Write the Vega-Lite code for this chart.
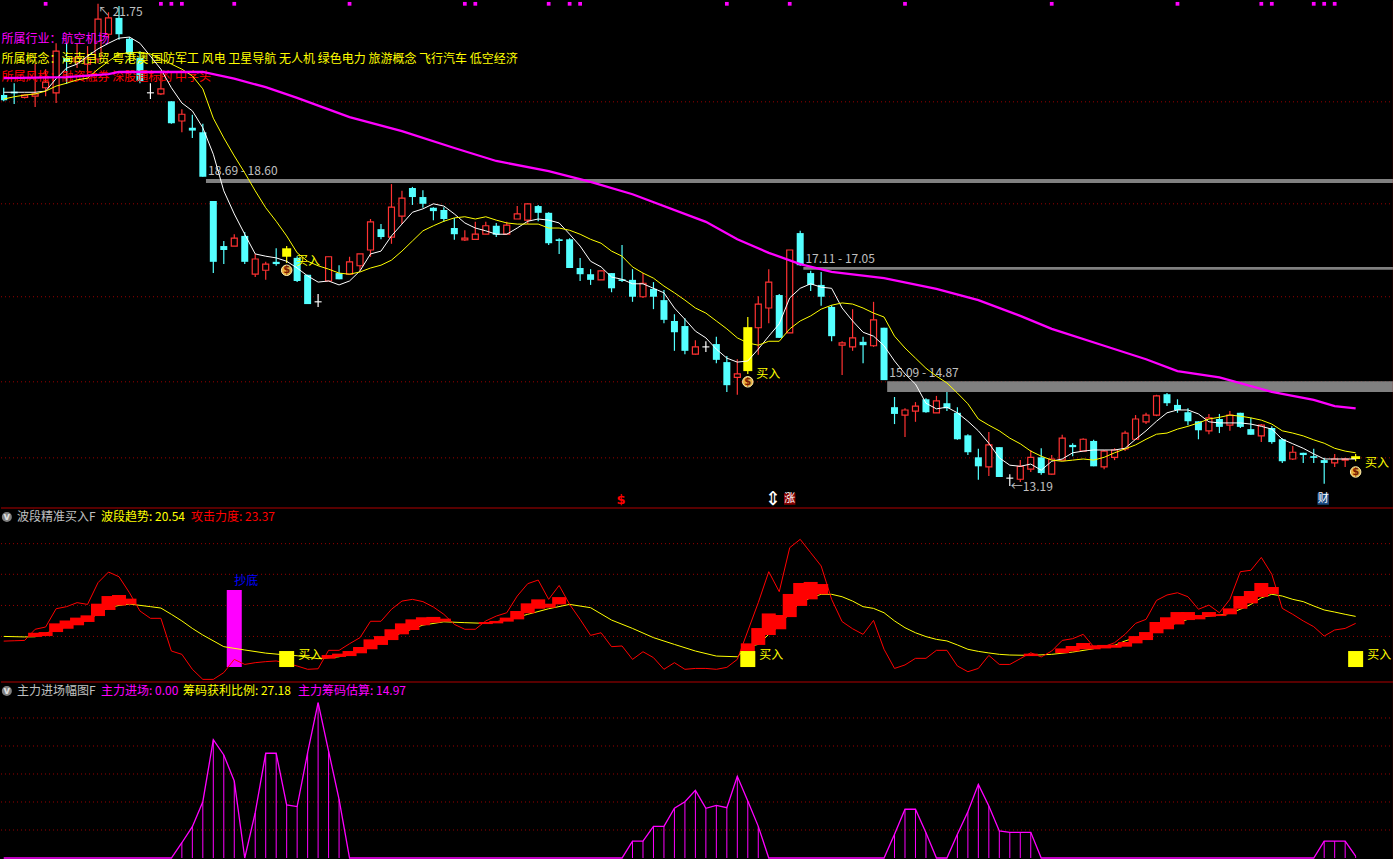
{"$schema":"https://vega.github.io/schema/vega-lite/v6.json","background":"#000000","padding":0,"spacing":0,"bounds":"flush","config":{"view":{"stroke":null},"concat":{"spacing":0},"scale":{"continuousPadding":0},"text":{"font":"Noto Sans CJK SC"}},
"datasets":{
"k":[
{"i":0,"o":20.13,"c":20.04,"h":20.26,"l":20.02,"s":"c","w":20.18,"y":20.06},
{"i":1,"o":20.19,"c":20.16,"h":20.34,"l":19.97,"s":"c","w":20.18,"y":20.10},
{"i":2,"o":20.09,"c":20.13,"h":20.14,"l":20.07,"s":"r","w":20.18,"y":20.13},
{"i":3,"o":20.11,"c":20.15,"h":20.68,"l":19.92,"s":"r","w":20.18,"y":20.15},
{"i":4,"o":20.26,"c":20.36,"h":20.59,"l":20.11,"s":"r","w":20.20,"y":20.20},
{"i":5,"o":20.17,"c":20.91,"h":21.05,"l":19.99,"s":"r","w":20.42,"y":20.29},
{"i":6,"o":20.79,"c":20.72,"h":21.05,"l":20.33,"s":"c","w":20.61,"y":20.34},
{"i":7,"o":20.72,"c":20.79,"h":21.04,"l":20.61,"s":"r","w":20.68,"y":20.40},
{"i":8,"o":20.68,"c":20.77,"h":21.00,"l":20.50,"s":"r","w":20.82,"y":20.43},
{"i":9,"o":20.77,"c":21.48,"h":21.75,"l":20.70,"s":"r","w":20.95,"y":20.59},
{"i":10,"o":21.21,"c":21.50,"h":21.60,"l":21.14,"s":"r","w":21.05,"y":20.73},
{"i":11,"o":21.50,"c":21.21,"h":21.71,"l":21.11,"s":"c","w":21.14,"y":20.86},
{"i":12,"o":21.13,"c":20.86,"h":21.16,"l":20.70,"s":"c","w":21.16,"y":20.88},
{"i":13,"o":20.79,"c":20.38,"h":20.91,"l":20.34,"s":"c","w":21.05,"y":20.89},
{"i":14,"o":20.18,"c":20.16,"h":20.34,"l":20.06,"s":"w","w":20.82,"y":20.86},
{"i":15,"o":20.15,"c":20.24,"h":20.56,"l":20.13,"s":"r","w":20.59,"y":20.77},
{"i":16,"o":20.02,"c":19.63,"h":20.02,"l":19.62,"s":"c","w":20.26,"y":20.68},
{"i":17,"o":19.67,"c":19.79,"h":19.88,"l":19.47,"s":"r","w":19.99,"y":20.59},
{"i":18,"o":19.55,"c":19.50,"h":19.78,"l":19.37,"s":"c","w":19.85,"y":20.47},
{"i":19,"o":19.47,"c":18.68,"h":19.62,"l":18.68,"s":"c","w":19.55,"y":20.24},
{"i":20,"o":18.25,"c":17.17,"h":18.25,"l":16.97,"s":"c","w":19.08,"y":19.72},
{"i":21,"o":17.45,"c":17.38,"h":17.54,"l":17.13,"s":"c","w":18.43,"y":19.37},
{"i":22,"o":17.45,"c":17.59,"h":17.66,"l":17.45,"s":"r","w":18.02,"y":19.05},
{"i":23,"o":17.63,"c":17.17,"h":17.70,"l":17.13,"s":"c","w":17.66,"y":18.75},
{"i":24,"o":16.95,"c":17.22,"h":17.31,"l":16.90,"s":"r","w":17.31,"y":18.43},
{"i":25,"o":17.02,"c":17.13,"h":17.17,"l":16.85,"s":"r","w":17.27,"y":18.13},
{"i":26,"o":17.17,"c":17.13,"h":17.41,"l":17.10,"s":"c","w":17.24,"y":17.89},
{"i":27,"o":17.26,"c":17.41,"h":17.45,"l":17.15,"s":"y","w":17.18,"y":17.63},
{"i":28,"o":17.24,"c":16.83,"h":17.27,"l":16.81,"s":"c","w":17.06,"y":17.33},
{"i":29,"o":16.94,"c":16.42,"h":16.94,"l":16.42,"s":"c","w":16.92,"y":17.18},
{"i":30,"o":16.47,"c":16.45,"h":16.60,"l":16.37,"s":"w","w":16.81,"y":17.10},
{"i":31,"o":16.83,"c":17.26,"h":17.26,"l":16.83,"s":"r","w":16.83,"y":17.04},
{"i":32,"o":16.97,"c":16.86,"h":17.11,"l":16.86,"s":"c","w":16.76,"y":16.97},
{"i":33,"o":16.95,"c":17.17,"h":17.26,"l":16.95,"s":"r","w":16.83,"y":16.95},
{"i":34,"o":17.10,"c":17.31,"h":17.31,"l":17.01,"s":"r","w":17.01,"y":16.99},
{"i":35,"o":17.38,"c":17.88,"h":17.93,"l":17.26,"s":"r","w":17.31,"y":17.06},
{"i":36,"o":17.75,"c":17.61,"h":17.84,"l":17.57,"s":"c","w":17.36,"y":17.11},
{"i":37,"o":17.61,"c":18.14,"h":18.55,"l":17.49,"s":"r","w":17.63,"y":17.20},
{"i":38,"o":17.98,"c":18.30,"h":18.43,"l":17.84,"s":"r","w":17.84,"y":17.36},
{"i":39,"o":18.48,"c":18.32,"h":18.50,"l":18.18,"s":"c","w":18.05,"y":17.54},
{"i":40,"o":18.32,"c":18.20,"h":18.44,"l":18.13,"s":"c","w":18.11,"y":17.72},
{"i":41,"o":18.13,"c":18.07,"h":18.14,"l":17.91,"s":"c","w":18.20,"y":17.81},
{"i":42,"o":18.09,"c":17.93,"h":18.14,"l":17.88,"s":"c","w":18.16,"y":17.89},
{"i":43,"o":17.77,"c":17.66,"h":17.95,"l":17.56,"s":"c","w":18.02,"y":17.95},
{"i":44,"o":17.56,"c":17.59,"h":17.73,"l":17.54,"s":"r","w":17.86,"y":17.97},
{"i":45,"o":17.57,"c":17.66,"h":17.88,"l":17.57,"s":"r","w":17.77,"y":17.93},
{"i":46,"o":17.66,"c":17.81,"h":17.88,"l":17.66,"s":"r","w":17.72,"y":17.97},
{"i":47,"o":17.81,"c":17.65,"h":17.86,"l":17.61,"s":"c","w":17.66,"y":17.91},
{"i":48,"o":17.66,"c":17.82,"h":17.88,"l":17.66,"s":"r","w":17.66,"y":17.86},
{"i":49,"o":17.93,"c":18.02,"h":18.16,"l":17.93,"s":"r","w":17.77,"y":17.84},
{"i":50,"o":17.91,"c":18.20,"h":18.21,"l":17.84,"s":"r","w":17.89,"y":17.84},
{"i":51,"o":18.16,"c":18.04,"h":18.18,"l":17.89,"s":"c","w":17.93,"y":17.84},
{"i":52,"o":18.04,"c":17.50,"h":18.05,"l":17.47,"s":"c","w":17.91,"y":17.77},
{"i":53,"o":17.57,"c":17.54,"h":17.59,"l":17.31,"s":"c","w":17.86,"y":17.77},
{"i":54,"o":17.57,"c":17.06,"h":17.59,"l":17.06,"s":"c","w":17.66,"y":17.73},
{"i":55,"o":17.06,"c":16.95,"h":17.24,"l":16.83,"s":"c","w":17.45,"y":17.66},
{"i":56,"o":16.95,"c":16.85,"h":17.04,"l":16.76,"s":"c","w":17.18,"y":17.57},
{"i":57,"o":16.85,"c":17.01,"h":17.02,"l":16.85,"s":"r","w":17.08,"y":17.50},
{"i":58,"o":16.97,"c":16.70,"h":16.97,"l":16.63,"s":"c","w":16.90,"y":17.36},
{"i":59,"o":16.86,"c":16.83,"h":17.47,"l":16.81,"s":"c","w":16.86,"y":17.27},
{"i":60,"o":16.85,"c":16.55,"h":17.04,"l":16.46,"s":"c","w":16.78,"y":17.08},
{"i":61,"o":16.55,"c":16.79,"h":16.97,"l":16.53,"s":"r","w":16.78,"y":16.97},
{"i":62,"o":16.69,"c":16.55,"h":16.81,"l":16.33,"s":"c","w":16.70,"y":16.88},
{"i":63,"o":16.49,"c":16.14,"h":16.67,"l":16.08,"s":"c","w":16.62,"y":16.74},
{"i":64,"o":16.12,"c":15.92,"h":16.24,"l":15.59,"s":"c","w":16.35,"y":16.62},
{"i":65,"o":16.03,"c":15.59,"h":16.17,"l":15.53,"s":"c","w":16.15,"y":16.49},
{"i":66,"o":15.53,"c":15.66,"h":15.78,"l":15.52,"s":"r","w":15.94,"y":16.35},
{"i":67,"o":15.67,"c":15.65,"h":15.76,"l":15.57,"s":"w","w":15.82,"y":16.26},
{"i":68,"o":15.71,"c":15.43,"h":15.84,"l":15.37,"s":"c","w":15.62,"y":16.12},
{"i":69,"o":15.39,"c":14.98,"h":15.50,"l":14.86,"s":"c","w":15.46,"y":15.98},
{"i":70,"o":15.12,"c":15.18,"h":15.44,"l":14.81,"s":"r","w":15.39,"y":15.82},
{"i":71,"o":15.23,"c":16.01,"h":16.19,"l":15.18,"s":"y","w":15.41,"y":15.73},
{"i":72,"o":16.00,"c":16.42,"h":16.56,"l":15.52,"s":"r","w":15.62,"y":15.69},
{"i":73,"o":16.35,"c":16.81,"h":17.04,"l":16.08,"s":"r","w":15.85,"y":15.76},
{"i":74,"o":16.58,"c":15.82,"h":16.60,"l":15.82,"s":"c","w":16.07,"y":15.76},
{"i":75,"o":15.91,"c":17.38,"h":17.38,"l":15.91,"s":"r","w":16.53,"y":15.98},
{"i":76,"o":17.68,"c":17.11,"h":17.72,"l":17.10,"s":"c","w":16.70,"y":16.12},
{"i":77,"o":16.97,"c":16.76,"h":17.01,"l":16.65,"s":"c","w":16.78,"y":16.21},
{"i":78,"o":16.76,"c":16.55,"h":16.99,"l":16.39,"s":"c","w":16.72,"y":16.33},
{"i":79,"o":16.37,"c":15.85,"h":16.40,"l":15.76,"s":"c","w":16.70,"y":16.40},
{"i":80,"o":15.69,"c":15.73,"h":15.76,"l":15.16,"s":"r","w":16.35,"y":16.44},
{"i":81,"o":15.66,"c":15.82,"h":16.33,"l":15.59,"s":"r","w":16.12,"y":16.42},
{"i":82,"o":15.75,"c":15.69,"h":15.84,"l":15.37,"s":"c","w":15.92,"y":16.35},
{"i":83,"o":15.68,"c":16.14,"h":16.46,"l":15.66,"s":"r","w":15.85,"y":16.26},
{"i":84,"o":16.00,"c":15.07,"h":16.00,"l":15.07,"s":"c","w":15.68,"y":16.19},
{"i":85,"o":14.59,"c":14.47,"h":14.77,"l":14.29,"s":"c","w":15.41,"y":15.85},
{"i":86,"o":14.45,"c":14.54,"h":14.57,"l":14.06,"s":"r","w":15.18,"y":15.64},
{"i":87,"o":14.52,"c":14.61,"h":14.68,"l":14.33,"s":"r","w":15.00,"y":15.46},
{"i":88,"o":14.73,"c":14.50,"h":14.75,"l":14.49,"s":"c","w":14.66,"y":15.28},
{"i":89,"o":14.49,"c":14.70,"h":14.79,"l":14.49,"s":"r","w":14.56,"y":15.14},
{"i":90,"o":14.66,"c":14.57,"h":14.86,"l":14.52,"s":"c","w":14.59,"y":15.02},
{"i":91,"o":14.49,"c":14.02,"h":14.59,"l":14.01,"s":"c","w":14.49,"y":14.84},
{"i":92,"o":14.09,"c":13.79,"h":14.11,"l":13.74,"s":"c","w":14.34,"y":14.65},
{"i":93,"o":13.70,"c":13.54,"h":13.85,"l":13.30,"s":"c","w":14.17,"y":14.38},
{"i":94,"o":13.53,"c":13.92,"h":14.15,"l":13.37,"s":"r","w":13.95,"y":14.27},
{"i":95,"o":13.88,"c":13.35,"h":13.88,"l":13.35,"s":"c","w":13.69,"y":14.17},
{"i":96,"o":13.34,"c":13.32,"h":13.40,"l":13.19,"s":"w","w":13.56,"y":14.04},
{"i":97,"o":13.31,"c":13.54,"h":13.65,"l":13.26,"s":"r","w":13.54,"y":13.94},
{"i":98,"o":13.49,"c":13.70,"h":13.83,"l":13.44,"s":"r","w":13.58,"y":13.81},
{"i":99,"o":13.70,"c":13.42,"h":13.86,"l":13.39,"s":"c","w":13.47,"y":13.72},
{"i":100,"o":13.40,"c":13.67,"h":13.74,"l":13.39,"s":"r","w":13.63,"y":13.65},
{"i":101,"o":13.65,"c":14.04,"h":14.10,"l":13.65,"s":"r","w":13.67,"y":13.63},
{"i":102,"o":13.92,"c":13.88,"h":13.95,"l":13.72,"s":"c","w":13.78,"y":13.65},
{"i":103,"o":13.81,"c":14.02,"h":14.04,"l":13.81,"s":"r","w":13.81,"y":13.67},
{"i":104,"o":13.99,"c":13.54,"h":14.01,"l":13.54,"s":"c","w":13.83,"y":13.65},
{"i":105,"o":13.53,"c":13.81,"h":13.83,"l":13.49,"s":"r","w":13.83,"y":13.70},
{"i":106,"o":13.70,"c":13.83,"h":13.86,"l":13.65,"s":"r","w":13.83,"y":13.78},
{"i":107,"o":13.85,"c":14.13,"h":14.17,"l":13.81,"s":"r","w":13.86,"y":13.85},
{"i":108,"o":14.02,"c":14.38,"h":14.45,"l":14.01,"s":"r","w":14.02,"y":13.92},
{"i":109,"o":14.33,"c":14.45,"h":14.49,"l":14.29,"s":"r","w":14.17,"y":14.02},
{"i":110,"o":14.45,"c":14.79,"h":14.81,"l":14.43,"s":"r","w":14.34,"y":14.11},
{"i":111,"o":14.82,"c":14.66,"h":14.84,"l":14.61,"s":"c","w":14.49,"y":14.13},
{"i":112,"o":14.63,"c":14.54,"h":14.73,"l":14.49,"s":"c","w":14.54,"y":14.20},
{"i":113,"o":14.50,"c":14.34,"h":14.57,"l":14.27,"s":"c","w":14.54,"y":14.25},
{"i":114,"o":14.34,"c":14.18,"h":14.34,"l":14.02,"s":"c","w":14.47,"y":14.31},
{"i":115,"o":14.17,"c":14.40,"h":14.47,"l":14.11,"s":"r","w":14.33,"y":14.38},
{"i":116,"o":14.38,"c":14.24,"h":14.47,"l":14.13,"s":"c","w":14.31,"y":14.41},
{"i":117,"o":14.27,"c":14.45,"h":14.52,"l":14.17,"s":"r","w":14.31,"y":14.45},
{"i":118,"o":14.49,"c":14.24,"h":14.49,"l":14.22,"s":"c","w":14.31,"y":14.43},
{"i":119,"o":14.20,"c":14.10,"h":14.40,"l":14.10,"s":"c","w":14.29,"y":14.40},
{"i":120,"o":14.08,"c":14.27,"h":14.29,"l":13.97,"s":"r","w":14.25,"y":14.36},
{"i":121,"o":14.22,"c":13.97,"h":14.25,"l":13.94,"s":"c","w":14.20,"y":14.29},
{"i":122,"o":14.02,"c":13.63,"h":14.04,"l":13.60,"s":"c","w":14.02,"y":14.17},
{"i":123,"o":13.67,"c":13.79,"h":13.90,"l":13.65,"s":"r","w":13.94,"y":14.13},
{"i":124,"o":13.78,"c":13.74,"h":13.78,"l":13.60,"s":"c","w":13.86,"y":14.08},
{"i":125,"o":13.72,"c":13.69,"h":13.85,"l":13.60,"s":"c","w":13.76,"y":14.01},
{"i":126,"o":13.65,"c":13.60,"h":13.69,"l":13.23,"s":"c","w":13.67,"y":13.95},
{"i":127,"o":13.60,"c":13.67,"h":13.76,"l":13.53,"s":"r","w":13.67,"y":13.86},
{"i":128,"o":13.65,"c":13.67,"h":13.69,"l":13.53,"s":"r","w":13.67,"y":13.81},
{"i":129,"o":13.67,"c":13.72,"h":13.76,"l":13.63,"s":"y","w":13.67,"y":13.78}
],
"ma":[{"i":0,"m":20.43},{"i":6,"m":20.45},{"i":10,"m":20.50},{"i":11,"m":20.54},{"i":19,"m":20.54},{"i":22,"m":20.42},{"i":25,"m":20.27},{"i":28,"m":20.08},{"i":33,"m":19.74},{"i":38,"m":19.49},{"i":43,"m":19.19},{"i":47,"m":18.96},{"i":52,"m":18.78},{"i":56,"m":18.59},{"i":60,"m":18.37},{"i":67,"m":17.88},{"i":70,"m":17.57},{"i":73,"m":17.33},{"i":76,"m":17.13},{"i":79,"m":16.99},{"i":84,"m":16.88},{"i":89,"m":16.69},{"i":93,"m":16.49},{"i":97,"m":16.21},{"i":100,"m":15.98},{"i":105,"m":15.68},{"i":109,"m":15.44},{"i":112,"m":15.23},{"i":116,"m":15.12},{"i":121,"m":14.86},{"i":125,"m":14.72},{"i":127,"m":14.61},{"i":129,"m":14.57}],
"a":[{"i":0,"v":23.5},{"i":1,"v":23.7},{"i":2,"v":23.9},{"i":3,"v":30.3},{"i":4,"v":31.6},{"i":5,"v":42.1},{"i":6,"v":43.3},{"i":7,"v":45.6},{"i":8,"v":44.6},{"i":9,"v":57.1},{"i":10,"v":63.2},{"i":11,"v":60.5},{"i":12,"v":51.3},{"i":13,"v":40.8},{"i":14,"v":36.6},{"i":15,"v":36.6},{"i":16,"v":17.8},{"i":17,"v":15.9},{"i":18,"v":7.3},{"i":19,"v":1.5},{"i":20,"v":1.5},{"i":21,"v":5.4},{"i":22,"v":13},{"i":23,"v":10.1},{"i":24,"v":11.1},{"i":25,"v":11.7},{"i":26,"v":12.1},{"i":27,"v":10.7},{"i":28,"v":9.2},{"i":29,"v":7.3},{"i":30,"v":7.6},{"i":31,"v":18.2},{"i":32,"v":18.2},{"i":33,"v":22},{"i":34,"v":25.5},{"i":35,"v":34.9},{"i":36,"v":34.9},{"i":37,"v":41.8},{"i":38,"v":46.5},{"i":39,"v":47.5},{"i":40,"v":46.2},{"i":41,"v":43.1},{"i":42,"v":38.9},{"i":43,"v":33.1},{"i":44,"v":30.3},{"i":45,"v":30.3},{"i":46,"v":35.1},{"i":47,"v":37.9},{"i":48,"v":39.8},{"i":49,"v":49.4},{"i":50,"v":56.5},{"i":51,"v":58.6},{"i":52,"v":47.5},{"i":53,"v":55.5},{"i":54,"v":44.6},{"i":55,"v":36},{"i":56,"v":26.8},{"i":57,"v":28.3},{"i":58,"v":20.3},{"i":59,"v":20.7},{"i":60,"v":13},{"i":61,"v":17.4},{"i":62,"v":14},{"i":63,"v":7.3},{"i":64,"v":11.1},{"i":65,"v":7.3},{"i":66,"v":7.8},{"i":67,"v":7.8},{"i":68,"v":7.3},{"i":69,"v":8.4},{"i":70,"v":13},{"i":71,"v":29.3},{"i":72,"v":45.6},{"i":73,"v":63.4},{"i":74,"v":51.9},{"i":75,"v":77.2},{"i":76,"v":82},{"i":77,"v":74.3},{"i":78,"v":66.7},{"i":79,"v":47.5},{"i":80,"v":34.7},{"i":81,"v":30.6},{"i":82,"v":27.4},{"i":83,"v":35.4},{"i":84,"v":18.8},{"i":85,"v":7.8},{"i":86,"v":9.8},{"i":87,"v":13.6},{"i":88,"v":13.6},{"i":89,"v":18.2},{"i":90,"v":18.2},{"i":91,"v":9.2},{"i":92,"v":5.9},{"i":93,"v":7.8},{"i":94,"v":15.3},{"i":95,"v":10.1},{"i":96,"v":10.1},{"i":97,"v":13.4},{"i":98,"v":16.8},{"i":99,"v":14.4},{"i":100,"v":17.8},{"i":101,"v":23.9},{"i":102,"v":24.9},{"i":103,"v":27.4},{"i":104,"v":20.3},{"i":105,"v":20.3},{"i":106,"v":22.6},{"i":107,"v":27.4},{"i":108,"v":33.7},{"i":109,"v":36},{"i":110,"v":46.9},{"i":111,"v":50},{"i":112,"v":51.3},{"i":113,"v":49},{"i":114,"v":41.8},{"i":115,"v":44.2},{"i":116,"v":39.8},{"i":117,"v":47.5},{"i":118,"v":63.4},{"i":119,"v":64.2},{"i":120,"v":71.6},{"i":121,"v":61.9},{"i":122,"v":42.3},{"i":123,"v":38.9},{"i":124,"v":35.1},{"i":125,"v":31.8},{"i":126,"v":26.4},{"i":127,"v":29.9},{"i":128,"v":30.8},{"i":129,"v":33.7}],
"b":[{"i":0,"v":26.2},{"i":2,"v":25.9},{"i":3,"v":26},{"i":4,"v":28},{"i":6,"v":31.8},{"i":8,"v":35.6},{"i":10,"v":42.7},{"i":11,"v":44},{"i":12,"v":44.8},{"i":14,"v":43.3},{"i":15,"v":42.5},{"i":16,"v":38.9},{"i":17,"v":35.1},{"i":18,"v":30.8},{"i":19,"v":27},{"i":21,"v":20.3},{"i":23,"v":18.4},{"i":25,"v":16.6},{"i":27,"v":15.5},{"i":28,"v":15.1},{"i":30,"v":13.4},{"i":32,"v":14.5},{"i":34,"v":17.8},{"i":36,"v":23.6},{"i":38,"v":28.3},{"i":40,"v":32.7},{"i":42,"v":34.6},{"i":44,"v":34.1},{"i":46,"v":33.7},{"i":48,"v":35.6},{"i":50,"v":38.9},{"i":52,"v":42.1},{"i":54,"v":44.6},{"i":56,"v":42.7},{"i":58,"v":35.6},{"i":60,"v":30.8},{"i":62,"v":25.5},{"i":64,"v":21.6},{"i":66,"v":17.8},{"i":68,"v":14.9},{"i":70,"v":14.5},{"i":71,"v":20.3},{"i":72,"v":21.6},{"i":73,"v":27.4},{"i":74,"v":32.2},{"i":75,"v":39.8},{"i":76,"v":45.6},{"i":77,"v":48.4},{"i":78,"v":50.4},{"i":79,"v":50.4},{"i":80,"v":49},{"i":81,"v":46.5},{"i":82,"v":43.3},{"i":83,"v":42.3},{"i":84,"v":39.8},{"i":85,"v":35.1},{"i":86,"v":31.2},{"i":87,"v":28.3},{"i":88,"v":26.1},{"i":89,"v":24.5},{"i":90,"v":23.6},{"i":91,"v":21.3},{"i":92,"v":18.8},{"i":93,"v":17.6},{"i":94,"v":16.7},{"i":95,"v":15.9},{"i":96,"v":15.5},{"i":98,"v":15.3},{"i":100,"v":15.9},{"i":102,"v":17.2},{"i":104,"v":19.1},{"i":105,"v":20.7},{"i":106,"v":21.1},{"i":107,"v":23.6},{"i":108,"v":25.5},{"i":109,"v":26.4},{"i":110,"v":29.3},{"i":111,"v":31.8},{"i":112,"v":34.1},{"i":113,"v":36},{"i":114,"v":37.3},{"i":115,"v":37.9},{"i":116,"v":38.5},{"i":117,"v":39.5},{"i":118,"v":41.8},{"i":119,"v":44.6},{"i":120,"v":48.4},{"i":121,"v":50.4},{"i":122,"v":49.4},{"i":123,"v":47.5},{"i":124,"v":46.2},{"i":125,"v":43.7},{"i":126,"v":41.4},{"i":127,"v":40.2},{"i":128,"v":38.9},{"i":129,"v":37.7}],
"blocks":[{"i":3,"t":28.3,"u":25.9},{"i":4,"t":28.7,"u":26.4},{"i":5,"t":33.7,"u":28.7},{"i":6,"t":35.4,"u":30.6},{"i":7,"t":37,"u":32.6},{"i":8,"t":38.3,"u":34.5},{"i":9,"t":45,"u":37.9},{"i":10,"t":49.4,"u":41.4},{"i":11,"t":50,"u":44},{"i":12,"t":47.9,"u":44.6},{"i":31,"t":15.5,"u":13.4},{"i":32,"t":16.3,"u":14.4},{"i":33,"t":17.8,"u":14.9},{"i":34,"t":20.1,"u":16.5},{"i":35,"t":24.5,"u":18.8},{"i":36,"t":26.4,"u":21.3},{"i":37,"t":30.3,"u":24.1},{"i":38,"t":33.7,"u":27.4},{"i":39,"t":36,"u":29.9},{"i":40,"t":37.2,"u":32.6},{"i":41,"t":37.4,"u":34.1},{"i":42,"t":36.4,"u":34.7},{"i":46,"t":34.5,"u":33.3},{"i":47,"t":35.1,"u":33.7},{"i":48,"t":37,"u":34.7},{"i":49,"t":40.8,"u":36},{"i":50,"t":45.2,"u":39.5},{"i":51,"t":47.5,"u":42.1},{"i":52,"t":45,"u":42.7},{"i":53,"t":48.8,"u":44.6},{"i":71,"t":22.2,"u":17.8},{"i":72,"t":31,"u":21.3},{"i":73,"t":39.4,"u":27},{"i":74,"t":38.5,"u":30.3},{"i":75,"t":50.6,"u":37.3},{"i":76,"t":56.9,"u":43.7},{"i":77,"t":57.5,"u":47.5},{"i":78,"t":56.3,"u":50.4},{"i":98,"t":16.3,"u":14.9},{"i":101,"t":19.3,"u":16.6},{"i":102,"t":20.7,"u":17.6},{"i":103,"t":22.4,"u":18.8},{"i":104,"t":21.1,"u":18.8},{"i":105,"t":21.3,"u":19.3},{"i":106,"t":21.4,"u":19.7},{"i":107,"t":23,"u":20.3},{"i":108,"t":26.4,"u":22.2},{"i":109,"t":28.7,"u":24.1},{"i":110,"t":34.5,"u":28},{"i":111,"t":37.2,"u":30.3},{"i":112,"t":40.2,"u":33.1},{"i":113,"t":40.2,"u":35.6},{"i":114,"t":38.5,"u":36},{"i":115,"t":40.2,"u":37.5},{"i":116,"t":38.9,"u":37.9},{"i":117,"t":42.3,"u":38.9},{"i":118,"t":49.4,"u":42.1},{"i":119,"t":52.3,"u":45.2},{"i":120,"t":56.9,"u":48.9},{"i":121,"t":54.6,"u":50.6}],
"z":[{"i":0,"v":0},{"i":16,"v":0},{"i":17,"v":10.9},{"i":18,"v":22.4},{"i":19,"v":40.2},{"i":20,"v":84.5},{"i":21,"v":73.6},{"i":22,"v":55},{"i":23,"v":0},{"i":24,"v":32.4},{"i":25,"v":74.8},{"i":26,"v":74.8},{"i":27,"v":37.9},{"i":28,"v":36.7},{"i":29,"v":75.2},{"i":30,"v":110.9},{"i":31,"v":76.4},{"i":32,"v":41.9},{"i":33,"v":0},{"i":59,"v":0},{"i":60,"v":12.1},{"i":61,"v":12.1},{"i":62,"v":22.6},{"i":63,"v":22.6},{"i":64,"v":35.5},{"i":65,"v":40.2},{"i":66,"v":48.3},{"i":67,"v":35.5},{"i":68,"v":37.6},{"i":69,"v":35.9},{"i":70,"v":58.3},{"i":71,"v":40.7},{"i":72,"v":22.6},{"i":73,"v":0},{"i":84,"v":0},{"i":85,"v":16.9},{"i":86,"v":34.8},{"i":87,"v":34.8},{"i":88,"v":18.1},{"i":89,"v":0},{"i":90,"v":0},{"i":91,"v":16.9},{"i":92,"v":33.1},{"i":93,"v":52.6},{"i":94,"v":37.1},{"i":95,"v":19.3},{"i":96,"v":18.3},{"i":97,"v":18.3},{"i":98,"v":18.3},{"i":99,"v":0},{"i":125,"v":0},{"i":126,"v":12.1},{"i":127,"v":12.1},{"i":128,"v":12.1},{"i":129,"v":1.4}]
},
"vconcat":[
{"width":1393,"height":507,"layer":[
{"data":{"values":[{"p":20.01},{"p":18.2},{"p":16.55},{"p":15.04},{"p":13.69}]},"mark":{"type":"rule","stroke":"#990000","strokeDash":[1,3]},"encoding":{"y":{"field":"p","type":"quantitative","scale":{"domain":[12.8,21.8],"nice":false,"zero":false},"axis":null}}},
{"data":{"values":[{"i":19.3,"e":132.66,"t":18.64,"u":18.57},{"i":76.3,"e":132.66,"t":17.08,"u":17.03},{"i":84.3,"e":132.66,"t":15.05,"u":14.86}]},"mark":{"type":"rect","fill":"#808080"},"encoding":{"x":{"field":"i","type":"quantitative","scale":{"domain":[-0.258,132.66],"nice":false,"zero":false,"padding":0},"axis":null},"x2":{"field":"e"},"y":{"field":"t","type":"quantitative","axis":null},"y2":{"field":"u"}}},
{"data":{"name":"k"},"mark":{"type":"rule","strokeWidth":1.2,"clip":true},"encoding":{"x":{"field":"i","type":"quantitative","axis":null},"y":{"field":"h","type":"quantitative","axis":null},"y2":{"field":"l"},"color":{"field":"s","type":"nominal","legend":null,"scale":{"domain":["r","c","y","w","m","l","R","g","b"],"range":["#ff3232","#54ffff","#ffff00","#ffffff","#ff00ff","#ffff00","#ff0000","#c0c0c0","#0000ff"]}}}},
{"data":{"name":"k"},"transform":[{"filter":"datum.s==='r'"}],"mark":{"type":"bar","size":6,"fill":"#000000","stroke":"#ff3232","strokeWidth":1.2,"clip":true},"encoding":{"x":{"field":"i","type":"quantitative","axis":null},"y":{"field":"o","type":"quantitative","axis":null},"y2":{"field":"c"}}},
{"data":{"name":"k"},"transform":[{"filter":"datum.s==='c'"}],"mark":{"type":"bar","size":7,"fill":"#54ffff","clip":true},"encoding":{"x":{"field":"i","type":"quantitative","axis":null},"y":{"field":"o","type":"quantitative","axis":null},"y2":{"field":"c"}}},
{"data":{"name":"k"},"transform":[{"filter":"datum.s==='w'"}],"mark":{"type":"bar","size":7,"fill":"#ffffff","clip":true},"encoding":{"x":{"field":"i","type":"quantitative","axis":null},"y":{"field":"o","type":"quantitative","axis":null},"y2":{"field":"c"}}},
{"data":{"name":"k"},"transform":[{"filter":"datum.s==='y'"}],"mark":{"type":"bar","size":9,"fill":"#ffff00","clip":true},"encoding":{"x":{"field":"i","type":"quantitative","axis":null},"y":{"field":"o","type":"quantitative","axis":null},"y2":{"field":"c"}}},
{"data":{"values":[{"i":-0.2,"p":21.13,"s":"m","t":"所属行业：航空机场"},{"i":-0.2,"p":20.77,"s":"l","t":"所属概念：海南自贸 粤港澳 国防军工 风电 卫星导航 无人机 绿色电力 旅游概念 飞行汽车 低空经济"},{"i":-0.2,"p":20.45,"s":"R","t":"所属风格：融资融券 深股通标的 中字头"},{"i":9,"p":21.6,"s":"g","t":"↖ 21.75"},{"i":19.5,"p":18.78,"s":"g","t":"18.69 - 18.60"},{"i":76.5,"p":17.22,"s":"g","t":"17.11 - 17.05"},{"i":84.5,"p":15.2,"s":"g","t":"15.09 - 14.87"},{"i":96.1,"p":13.17,"s":"g","t":"←13.19"},{"i":27.9,"p":17.18,"s":"l","t":"买入"},{"i":71.8,"p":15.18,"s":"l","t":"买入"},{"i":129.9,"p":13.6,"s":"l","t":"买入"}]},"mark":{"type":"text","align":"left","baseline":"middle","fontSize":12,"font":"Noto Sans CJK SC","clip":true},"encoding":{"x":{"field":"i","type":"quantitative","axis":null},"y":{"field":"p","type":"quantitative","axis":null},"text":{"field":"t"},"color":{"field":"s","type":"nominal","legend":null,"scale":{"domain":["r","c","y","w","m","l","R","g","b"],"range":["#ff3232","#54ffff","#ffff00","#ffffff","#ff00ff","#ffff00","#ff0000","#c0c0c0","#0000ff"]}}}},
{"data":{"values":[{"i":58.9,"p":12.94,"t":"$"}]},"mark":{"type":"text","fontSize":13,"fontWeight":"bold","fill":"#ff0000","font":"DejaVu Sans"},"encoding":{"x":{"field":"i","type":"quantitative","axis":null},"y":{"field":"p","type":"quantitative","axis":null},"text":{"field":"t"}}},
{"data":{"values":[{"i":73.4,"p":12.96,"t":"⇕"}]},"mark":{"type":"text","fontSize":19,"fill":"#ffffff","font":"DejaVu Sans"},"encoding":{"x":{"field":"i","type":"quantitative","axis":null},"y":{"field":"p","type":"quantitative","axis":null},"text":{"field":"t"}}},
{"data":{"name":"k"},"mark":{"type":"line","stroke":"#ffffff","strokeWidth":1,"clip":true},"encoding":{"x":{"field":"i","type":"quantitative","axis":null},"y":{"field":"w","type":"quantitative","axis":null}}},
{"data":{"name":"k"},"mark":{"type":"line","stroke":"#ffff00","strokeWidth":1,"clip":true},"encoding":{"x":{"field":"i","type":"quantitative","axis":null},"y":{"field":"y","type":"quantitative","axis":null}}},
{"data":{"name":"ma"},"mark":{"type":"line","stroke":"#ff00ff","strokeWidth":2.3,"clip":true},"encoding":{"x":{"field":"i","type":"quantitative","axis":null},"y":{"field":"m","type":"quantitative","axis":null}}},
{"data":{"values":[{"i":4},{"i":15},{"i":16},{"i":17},{"i":22},{"i":33},{"i":44},{"i":45},{"i":52},{"i":54},{"i":55},{"i":69},{"i":75},{"i":86},{"i":100},{"i":112},{"i":120},{"i":121},{"i":125},{"i":126},{"i":127}]},"mark":{"type":"point","shape":"square","filled":true,"fill":"#ff00ff","size":14,"opacity":1},"encoding":{"x":{"field":"i","type":"quantitative","axis":null},"y":{"datum":21.75,"type":"quantitative","axis":null}}},
{"data":{"values":[{"i":27,"p":17.02},{"i":71,"p":15.04},{"i":129,"p":13.44}]},"mark":{"type":"point","shape":"circle","filled":true,"fill":"#e8b040","stroke":"#fff0b0","strokeWidth":1,"size":110,"opacity":1},"encoding":{"x":{"field":"i","type":"quantitative","axis":null},"y":{"field":"p","type":"quantitative","axis":null}}},
{"data":{"values":[{"i":27,"p":17.02},{"i":71,"p":15.04},{"i":129,"p":13.44}]},"mark":{"type":"text","text":"$","fontSize":10,"fontWeight":"bold","fill":"#7a1a00","font":"DejaVu Sans"},"encoding":{"x":{"field":"i","type":"quantitative","axis":null},"y":{"field":"p","type":"quantitative","axis":null}}},
{"data":{"values":[{"i":75,"p":12.96,"n":"涨"}]},"mark":{"type":"point","shape":"square","filled":true,"fill":"#8a0000","size":130,"opacity":1},"encoding":{"x":{"field":"i","type":"quantitative","axis":null},"y":{"field":"p","type":"quantitative","axis":null}}},
{"data":{"values":[{"i":125.9,"p":12.96,"n":"财"}]},"mark":{"type":"point","shape":"square","filled":true,"fill":"#1a4a80","size":130,"opacity":1},"encoding":{"x":{"field":"i","type":"quantitative","axis":null},"y":{"field":"p","type":"quantitative","axis":null}}},
{"data":{"values":[{"i":75,"p":12.96,"n":"涨"},{"i":125.9,"p":12.96,"n":"财"}]},"mark":{"type":"text","fontSize":11,"fill":"#ffffff","font":"Noto Sans CJK SC"},"encoding":{"x":{"field":"i","type":"quantitative","axis":null},"y":{"field":"p","type":"quantitative","axis":null},"text":{"field":"n"}}},
{"data":{"values":[{"i":132.6}]},"mark":{"type":"rule","stroke":"#a00000"},"encoding":{"x":{"field":"i","type":"quantitative","axis":null}}}
]},
{"width":1393,"height":174,"layer":[
{"data":{"values":[{"v":79.5},{"v":61.9},{"v":44},{"v":26.2}]},"mark":{"type":"rule","stroke":"#990000","strokeDash":[1,3]},"encoding":{"y":{"field":"v","type":"quantitative","scale":{"domain":[0,100],"nice":false},"axis":null}}},
{"data":{"values":[{"v":100}]},"mark":{"type":"rule","stroke":"#b00000","strokeWidth":1},"encoding":{"y":{"field":"v","type":"quantitative","axis":null}}},
{"data":{"values":[{"i":132.6}]},"mark":{"type":"rule","stroke":"#a00000"},"encoding":{"x":{"field":"i","type":"quantitative","scale":{"domain":[-0.258,132.66],"nice":false,"zero":false,"padding":0},"axis":null}}},
{"data":{"values":[{"i":22,"t":52.9,"u":8.6}]},"mark":{"type":"bar","size":15,"fill":"#ff00ff"},"encoding":{"x":{"field":"i","type":"quantitative","axis":null},"y":{"field":"t","type":"quantitative","axis":null},"y2":{"field":"u"}}},
{"data":{"name":"b"},"mark":{"type":"line","stroke":"#ffff00","strokeWidth":1},"encoding":{"x":{"field":"i","type":"quantitative","axis":null},"y":{"field":"v","type":"quantitative","axis":null}}},
{"data":{"name":"blocks"},"mark":{"type":"bar","size":14,"fill":"#ff0000"},"encoding":{"x":{"field":"i","type":"quantitative","axis":null},"y":{"field":"t","type":"quantitative","axis":null},"y2":{"field":"u"}}},
{"data":{"name":"a"},"mark":{"type":"line","stroke":"#ff0000","strokeWidth":1},"encoding":{"x":{"field":"i","type":"quantitative","axis":null},"y":{"field":"v","type":"quantitative","axis":null}}},
{"data":{"values":[{"i":27,"t":17.8,"u":8.6},{"i":71,"t":17.8,"u":8.6},{"i":129,"t":17.8,"u":8.6}]},"mark":{"type":"bar","size":15,"fill":"#ffff00"},"encoding":{"x":{"field":"i","type":"quantitative","axis":null},"y":{"field":"t","type":"quantitative","axis":null},"y2":{"field":"u"}}},
{"data":{"values":[{"i":0.3,"v":94.8}]},"mark":{"type":"point","shape":"circle","filled":true,"fill":"#808080","size":100,"opacity":1},"encoding":{"x":{"field":"i","type":"quantitative","axis":null},"y":{"field":"v","type":"quantitative","axis":null}}},
{"data":{"values":[{"i":0.3,"v":94.8,"t":"v"}]},"mark":{"type":"text","fontSize":10,"fontWeight":"bold","fill":"#e0e0e0","font":"DejaVu Sans"},"encoding":{"x":{"field":"i","type":"quantitative","axis":null},"y":{"field":"v","type":"quantitative","axis":null},"text":{"field":"t"}}},
{"data":{"values":[{"i":1.27,"v":94.8,"s":"g","t":"波段精准买入F"},{"i":9.28,"v":94.8,"s":"l","t":"波段趋势: 20.54"},{"i":17.87,"v":94.8,"s":"R","t":"攻击力度: 23.37"},{"i":22,"v":58,"s":"b","t":"抄底"},{"i":28.1,"v":15.5,"s":"l","t":"买入"},{"i":72.1,"v":15.5,"s":"l","t":"买入"},{"i":130.1,"v":15.5,"s":"l","t":"买入"}]},"mark":{"type":"text","align":"left","baseline":"middle","fontSize":12,"font":"Noto Sans CJK SC","clip":true},"encoding":{"x":{"field":"i","type":"quantitative","axis":null},"y":{"field":"v","type":"quantitative","axis":null},"text":{"field":"t"},"color":{"field":"s","type":"nominal","legend":null,"scale":{"domain":["l","R","g","b","m"],"range":["#ffff00","#ff0000","#c0c0c0","#0000ff","#ff00ff"]}}}}
]},
{"width":1393,"height":178,"layer":[
{"data":{"values":[{"v":100},{"v":80},{"v":60},{"v":40},{"v":20}]},"mark":{"type":"rule","stroke":"#990000","strokeDash":[1,3]},"encoding":{"y":{"field":"v","type":"quantitative","scale":{"domain":[-1.43,125.7],"nice":false,"zero":false},"axis":null}}},
{"data":{"values":[{"v":125.7}]},"mark":{"type":"rule","stroke":"#b00000","strokeWidth":1},"encoding":{"y":{"field":"v","type":"quantitative","axis":null}}},
{"data":{"values":[{"i":132.6}]},"mark":{"type":"rule","stroke":"#a00000"},"encoding":{"x":{"field":"i","type":"quantitative","scale":{"domain":[-0.258,132.66],"nice":false,"zero":false},"axis":null}}},
{"data":{"name":"z"},"transform":[{"filter":"datum.v>0"}],"mark":{"type":"rule","stroke":"#ff00ff","strokeWidth":1},"encoding":{"x":{"field":"i","type":"quantitative","axis":null},"y":{"field":"v","type":"quantitative","axis":null},"y2":{"datum":0}}},
{"data":{"name":"z"},"mark":{"type":"line","stroke":"#ff00ff","strokeWidth":1.3,"clip":true},"encoding":{"x":{"field":"i","type":"quantitative","axis":null},"y":{"field":"v","type":"quantitative","axis":null}}},
{"data":{"values":[{"i":0.3,"v":119.3}]},"mark":{"type":"point","shape":"circle","filled":true,"fill":"#808080","size":100,"opacity":1},"encoding":{"x":{"field":"i","type":"quantitative","axis":null},"y":{"field":"v","type":"quantitative","axis":null}}},
{"data":{"values":[{"i":0.3,"v":119.3,"t":"v"}]},"mark":{"type":"text","fontSize":10,"fontWeight":"bold","fill":"#e0e0e0","font":"DejaVu Sans"},"encoding":{"x":{"field":"i","type":"quantitative","axis":null},"y":{"field":"v","type":"quantitative","axis":null},"text":{"field":"t"}}},
{"data":{"values":[{"i":1.27,"v":119.3,"s":"g","t":"主力进场幅图F"},{"i":9.28,"v":119.3,"s":"m","t":"主力进场: 0.00"},{"i":17.1,"v":119.3,"s":"l","t":"筹码获利比例: 27.18"},{"i":28.08,"v":119.3,"s":"m","t":"主力筹码估算: 14.97"}]},"mark":{"type":"text","align":"left","baseline":"middle","fontSize":12,"font":"Noto Sans CJK SC","clip":true},"encoding":{"x":{"field":"i","type":"quantitative","axis":null},"y":{"field":"v","type":"quantitative","axis":null},"text":{"field":"t"},"color":{"field":"s","type":"nominal","legend":null,"scale":{"domain":["l","g","m"],"range":["#ffff00","#c0c0c0","#ff00ff"]}}}}
]}
]}
